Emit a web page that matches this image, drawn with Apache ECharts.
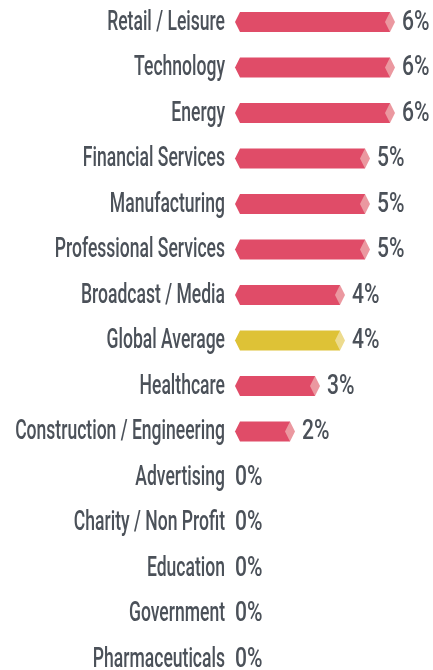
<!DOCTYPE html>
<html>
<head>
<meta charset="utf-8">
<script src="https://cdn.jsdelivr.net/npm/echarts@6/dist/echarts.min.js"></script>
<style>
  html, body { margin: 0; padding: 0; background: #ffffff; }
  #chart { width: 433px; height: 670px; }
</style>
</head>
<body>
<div id="chart"></div>
<script>
// Sectors, top to bottom
const categories = [
  'Retail / Leisure', 'Technology', 'Energy', 'Financial Services',
  'Manufacturing', 'Professional Services', 'Broadcast / Media',
  'Global Average', 'Healthcare', 'Construction / Engineering',
  'Advertising', 'Charity / Non Profit', 'Education', 'Government',
  'Pharmaceuticals'
];
// Share per sector, in percent
const values = [6, 6, 6, 5, 5, 5, 4, 4, 3, 2, 0, 0, 0, 0, 0];
// Row drawn in the accent colour
const averageLabel = 'Global Average';

const FONT = 'Roboto, "Liberation Sans", sans-serif';
const FONT_SIZE = 27;
const NAME_SQUEEZE = 0.65;     // horizontal squeeze for a condensed look
const VALUE_SQUEEZE = 0.78;
const TEXT = '#4b5159';
const COLORS = {
  normal: { body: '#e04c68', cap: '#eb98a0' },
  average: { body: '#dec236', cap: '#eddb8e' }
};

const chart = echarts.init(document.getElementById('chart'), null, { renderer: 'canvas' });

function condensedText(x, y, text, align, squeeze) {
  return {
    type: 'text',
    x: x, y: y + 1,
    scaleX: squeeze,
    style: {
      x: 0, y: 0,
      text: text,
      fill: TEXT,
      font: '500 ' + FONT_SIZE + 'px ' + FONT,
      textAlign: align,
      textVerticalAlign: 'middle'
    }
  };
}

function renderBar(params, api) {
  const idx = api.value(0);
  const v = api.value(1);
  const x0 = api.coord([0, idx])[0];
  const pt = api.coord([v, idx]);
  const xc = pt[0], cy = pt[1];
  const h = 20, top = cy - h / 2, bot = cy + h / 2;
  const tipL = 5, capW = 5;
  const pal = categories[idx] === averageLabel ? COLORS.average : COLORS.normal;
  const children = [];
  let labelX = x0 - tipL;
  if (v > 0) {
    children.push({
      type: 'polygon',
      shape: { points: [[x0 - tipL, cy], [x0, top], [xc, top], [xc, bot], [x0, bot]] },
      style: { fill: pal.body }
    });
    children.push({
      type: 'polygon',
      shape: { points: [[xc - capW, cy], [xc, top], [xc + capW, cy], [xc, bot]] },
      style: { fill: pal.cap }
    });
    labelX = xc + capW + 7;
  }
  // value label
  children.push(condensedText(labelX, cy, v + '%', 'left', VALUE_SQUEEZE));
  // sector name
  children.push(condensedText(x0 - tipL - 10, cy, categories[idx], 'right', NAME_SQUEEZE));
  return { type: 'group', children: children };
}

chart.setOption({
  animation: false,
  grid: { left: 240, right: 43, top: 22, bottom: 11, containLabel: false, outerBoundsMode: 'none' },
  xAxis: { type: 'value', min: 0, max: 6, show: false },
  yAxis: {
    type: 'category',
    data: categories,
    inverse: true,
    boundaryGap: false,
    show: false
  },
  series: [{
    type: 'custom',
    renderItem: renderBar,
    clip: false,
    encode: { x: 1, y: 0 },
    data: categories.map((c, i) => [i, values[i]])
  }]
});
</script>
</body>
</html>
